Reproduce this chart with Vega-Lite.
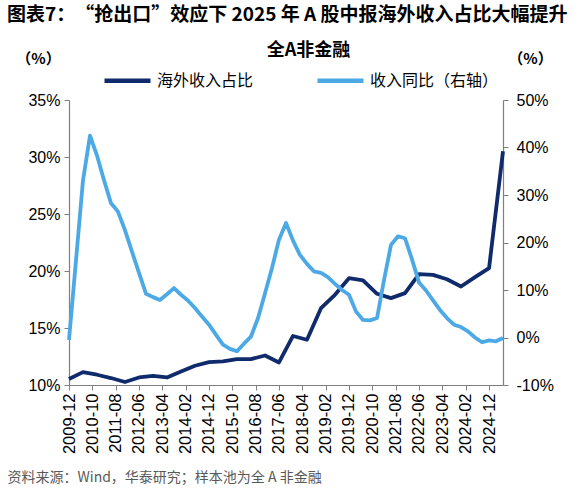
{
  "$schema": "https://vega.github.io/schema/vega-lite/v6.json",
  "width": 434,
  "height": 285,
  "autosize": "none",
  "padding": {"left": 69, "top": 100, "right": 77, "bottom": 115},
  "background": "white",
  "title": {
    "text": "图表7：　“抢出口”效应下 2025 年 A 股中报海外收入占比大幅提升",
    "anchor": "start",
    "frame": "group",
    "dx": -62,
    "offset": 16,
    "font": "Noto Sans CJK SC",
    "fontSize": 19,
    "fontWeight": "bold",
    "color": "black"
  },
  "data": {
    "values": [
      {"date": "2009-12-01", "series": "海外收入占比", "value": 10.52},
      {"date": "2010-06-01", "series": "海外收入占比", "value": 11.13},
      {"date": "2010-12-01", "series": "海外收入占比", "value": 10.9},
      {"date": "2011-06-01", "series": "海外收入占比", "value": 10.61},
      {"date": "2011-12-01", "series": "海外收入占比", "value": 10.26},
      {"date": "2012-06-01", "series": "海外收入占比", "value": 10.66},
      {"date": "2012-12-01", "series": "海外收入占比", "value": 10.81},
      {"date": "2013-06-01", "series": "海外收入占比", "value": 10.66},
      {"date": "2013-12-01", "series": "海外收入占比", "value": 11.19},
      {"date": "2014-06-01", "series": "海外收入占比", "value": 11.69},
      {"date": "2014-12-01", "series": "海外收入占比", "value": 12.01},
      {"date": "2015-06-01", "series": "海外收入占比", "value": 12.07},
      {"date": "2015-12-01", "series": "海外收入占比", "value": 12.27},
      {"date": "2016-06-01", "series": "海外收入占比", "value": 12.27},
      {"date": "2016-12-01", "series": "海外收入占比", "value": 12.59},
      {"date": "2017-06-01", "series": "海外收入占比", "value": 11.98},
      {"date": "2017-12-01", "series": "海外收入占比", "value": 14.3},
      {"date": "2018-06-01", "series": "海外收入占比", "value": 13.97},
      {"date": "2018-12-01", "series": "海外收入占比", "value": 16.74},
      {"date": "2019-06-01", "series": "海外收入占比", "value": 17.91},
      {"date": "2019-12-01", "series": "海外收入占比", "value": 19.37},
      {"date": "2020-06-01", "series": "海外收入占比", "value": 19.17},
      {"date": "2020-12-01", "series": "海外收入占比", "value": 18.0},
      {"date": "2021-06-01", "series": "海外收入占比", "value": 17.62},
      {"date": "2021-12-01", "series": "海外收入占比", "value": 18.06},
      {"date": "2022-06-01", "series": "海外收入占比", "value": 19.72},
      {"date": "2022-12-01", "series": "海外收入占比", "value": 19.66},
      {"date": "2023-06-01", "series": "海外收入占比", "value": 19.28},
      {"date": "2023-12-01", "series": "海外收入占比", "value": 18.64},
      {"date": "2024-06-01", "series": "海外收入占比", "value": 19.46},
      {"date": "2024-12-01", "series": "海外收入占比", "value": 20.25},
      {"date": "2025-06-01", "series": "海外收入占比", "value": 30.5},
      {"date": "2009-12-01", "series": "收入同比（右轴）", "value": -0.5},
      {"date": "2010-03-01", "series": "收入同比（右轴）", "value": 16},
      {"date": "2010-06-01", "series": "收入同比（右轴）", "value": 33},
      {"date": "2010-09-01", "series": "收入同比（右轴）", "value": 42.5},
      {"date": "2010-12-01", "series": "收入同比（右轴）", "value": 38.3},
      {"date": "2011-03-01", "series": "收入同比（右轴）", "value": 33.2},
      {"date": "2011-06-01", "series": "收入同比（右轴）", "value": 28.3},
      {"date": "2011-09-01", "series": "收入同比（右轴）", "value": 26.5},
      {"date": "2011-12-01", "series": "收入同比（右轴）", "value": 22.6},
      {"date": "2012-03-01", "series": "收入同比（右轴）", "value": 18.1},
      {"date": "2012-06-01", "series": "收入同比（右轴）", "value": 13.6},
      {"date": "2012-09-01", "series": "收入同比（右轴）", "value": 9.2},
      {"date": "2012-12-01", "series": "收入同比（右轴）", "value": 8.5},
      {"date": "2013-03-01", "series": "收入同比（右轴）", "value": 7.9},
      {"date": "2013-06-01", "series": "收入同比（右轴）", "value": 9.1},
      {"date": "2013-09-01", "series": "收入同比（右轴）", "value": 10.4},
      {"date": "2013-12-01", "series": "收入同比（右轴）", "value": 9.0},
      {"date": "2014-03-01", "series": "收入同比（右轴）", "value": 7.8},
      {"date": "2014-06-01", "series": "收入同比（右轴）", "value": 6.2},
      {"date": "2014-09-01", "series": "收入同比（右轴）", "value": 4.4},
      {"date": "2014-12-01", "series": "收入同比（右轴）", "value": 2.7},
      {"date": "2015-03-01", "series": "收入同比（右轴）", "value": 0.6},
      {"date": "2015-06-01", "series": "收入同比（右轴）", "value": -1.5},
      {"date": "2015-09-01", "series": "收入同比（右轴）", "value": -2.4},
      {"date": "2015-12-01", "series": "收入同比（右轴）", "value": -2.9},
      {"date": "2016-03-01", "series": "收入同比（右轴）", "value": -1.3},
      {"date": "2016-06-01", "series": "收入同比（右轴）", "value": 0.2},
      {"date": "2016-09-01", "series": "收入同比（右轴）", "value": 4.1},
      {"date": "2016-12-01", "series": "收入同比（右轴）", "value": 9.3},
      {"date": "2017-03-01", "series": "收入同比（右轴）", "value": 14.6},
      {"date": "2017-06-01", "series": "收入同比（右轴）", "value": 20.6},
      {"date": "2017-09-01", "series": "收入同比（右轴）", "value": 24.1},
      {"date": "2017-12-01", "series": "收入同比（右轴）", "value": 20.4},
      {"date": "2018-03-01", "series": "收入同比（右轴）", "value": 17.4},
      {"date": "2018-06-01", "series": "收入同比（右轴）", "value": 15.5},
      {"date": "2018-09-01", "series": "收入同比（右轴）", "value": 13.9},
      {"date": "2018-12-01", "series": "收入同比（右轴）", "value": 13.6},
      {"date": "2019-03-01", "series": "收入同比（右轴）", "value": 12.7},
      {"date": "2019-06-01", "series": "收入同比（右轴）", "value": 11.3},
      {"date": "2019-09-01", "series": "收入同比（右轴）", "value": 10.0},
      {"date": "2019-12-01", "series": "收入同比（右轴）", "value": 9.0},
      {"date": "2020-03-01", "series": "收入同比（右轴）", "value": 5.5},
      {"date": "2020-06-01", "series": "收入同比（右轴）", "value": 3.7},
      {"date": "2020-09-01", "series": "收入同比（右轴）", "value": 3.6},
      {"date": "2020-12-01", "series": "收入同比（右轴）", "value": 4.1},
      {"date": "2021-03-01", "series": "收入同比（右轴）", "value": 12},
      {"date": "2021-06-01", "series": "收入同比（右轴）", "value": 19.5},
      {"date": "2021-09-01", "series": "收入同比（右轴）", "value": 21.3},
      {"date": "2021-12-01", "series": "收入同比（右轴）", "value": 20.9},
      {"date": "2022-03-01", "series": "收入同比（右轴）", "value": 16.5},
      {"date": "2022-06-01", "series": "收入同比（右轴）", "value": 11.6},
      {"date": "2022-09-01", "series": "收入同比（右轴）", "value": 9.9},
      {"date": "2022-12-01", "series": "收入同比（右轴）", "value": 7.8},
      {"date": "2023-03-01", "series": "收入同比（右轴）", "value": 5.8},
      {"date": "2023-06-01", "series": "收入同比（右轴）", "value": 4.1},
      {"date": "2023-09-01", "series": "收入同比（右轴）", "value": 2.7},
      {"date": "2023-12-01", "series": "收入同比（右轴）", "value": 2.2},
      {"date": "2024-03-01", "series": "收入同比（右轴）", "value": 1.3},
      {"date": "2024-06-01", "series": "收入同比（右轴）", "value": 0.0},
      {"date": "2024-09-01", "series": "收入同比（右轴）", "value": -1.0},
      {"date": "2024-12-01", "series": "收入同比（右轴）", "value": -0.6},
      {"date": "2025-03-01", "series": "收入同比（右轴）", "value": -0.8},
      {"date": "2025-06-01", "series": "收入同比（右轴）", "value": -0.1}
    ]
  },
  "layer": [
    {
      "transform": [{"filter": "datum.series === '海外收入占比'"}],
      "mark": {"type": "line", "strokeWidth": 3.8, "strokeJoin": "round"},
      "encoding": {
        "x": {
          "field": "date",
          "type": "temporal",
          "scale": {
            "type": "utc",
            "domain": [
              {"year": 2009, "month": 12, "date": 1, "utc": true},
              {"year": 2025, "month": 6, "date": 1, "utc": true}
            ]
          },
          "axis": {
            "orient": "bottom",
            "format": "%Y-%m",
            "values": [
              {"year": 2009, "month": 12, "date": 1, "utc": true},
              {"year": 2010, "month": 10, "date": 1, "utc": true},
              {"year": 2011, "month": 8, "date": 1, "utc": true},
              {"year": 2012, "month": 6, "date": 1, "utc": true},
              {"year": 2013, "month": 4, "date": 1, "utc": true},
              {"year": 2014, "month": 2, "date": 1, "utc": true},
              {"year": 2014, "month": 12, "date": 1, "utc": true},
              {"year": 2015, "month": 10, "date": 1, "utc": true},
              {"year": 2016, "month": 8, "date": 1, "utc": true},
              {"year": 2017, "month": 6, "date": 1, "utc": true},
              {"year": 2018, "month": 4, "date": 1, "utc": true},
              {"year": 2019, "month": 2, "date": 1, "utc": true},
              {"year": 2019, "month": 12, "date": 1, "utc": true},
              {"year": 2020, "month": 10, "date": 1, "utc": true},
              {"year": 2021, "month": 8, "date": 1, "utc": true},
              {"year": 2022, "month": 6, "date": 1, "utc": true},
              {"year": 2023, "month": 4, "date": 1, "utc": true},
              {"year": 2024, "month": 2, "date": 1, "utc": true},
              {"year": 2024, "month": 12, "date": 1, "utc": true}
            ],
            "labelAngle": 270,
            "labelAlign": "right",
            "labelBaseline": "middle",
            "labelPadding": 3,
            "labelFontSize": 16.5,
            "labelOverlap": false,
            "labelFlush": false,
            "grid": false,
            "tickSize": 5,
            "title": "资料来源：Wind，华泰研究；样本池为全 A 非金融",
            "titleX": -62,
            "titleY": 92,
            "titleAlign": "left",
            "titleAnchor": "start",
            "titleBaseline": "middle",
            "titleFont": "Noto Sans CJK SC",
            "titleFontSize": 14,
            "titleFontWeight": "normal",
            "titleColor": "#595959"
          }
        },
        "y": {
          "field": "value",
          "type": "quantitative",
          "scale": {"domain": [10, 35], "nice": false, "zero": false},
          "axis": {
            "orient": "left",
            "values": [10, 15, 20, 25, 30, 35],
            "labelExpr": "datum.value + '%'",
            "labelFontSize": 16,
            "labelPadding": 4,
            "grid": false,
            "tickSize": 5,
            "title": "（%）",
            "titleAngle": 0,
            "titleX": -31,
            "titleY": -42,
            "titleAlign": "center",
            "titleBaseline": "middle",
            "titleFont": "Noto Sans CJK SC",
            "titleFontSize": 15,
            "titleFontWeight": "bold"
          }
        },
        "color": {
          "field": "series",
          "type": "nominal",
          "scale": {"domain": ["海外收入占比", "收入同比（右轴）"], "range": ["#0f2b6c", "#4ca9e6"]},
          "legend": {
            "orient": "none",
            "legendX": 33,
            "legendY": -45,
            "direction": "horizontal",
            "title": null
          }
        }
      }
    },
    {
      "transform": [{"filter": "datum.series === '收入同比（右轴）'"}],
      "mark": {"type": "line", "strokeWidth": 3.8, "strokeJoin": "round"},
      "encoding": {
        "x": {
          "field": "date",
          "type": "temporal",
          "axis": {
            "orient": "top",
            "labels": false,
            "ticks": false,
            "domain": false,
            "grid": false,
            "title": "全A非金融",
            "titleX": 239,
            "titleY": -50,
            "titleAlign": "center",
            "titleAnchor": "middle",
            "titleBaseline": "middle",
            "titleFont": "Noto Sans CJK SC",
            "titleFontSize": 18,
            "titleFontWeight": "bold"
          }
        },
        "y": {
          "field": "value",
          "type": "quantitative",
          "scale": {"domain": [-10, 50], "nice": false, "zero": false},
          "axis": {
            "orient": "right",
            "values": [-10, 0, 10, 20, 30, 40, 50],
            "labelExpr": "datum.value + '%'",
            "labelFontSize": 16,
            "labelPadding": 8,
            "grid": false,
            "tickSize": 5,
            "title": "（%）",
            "titleAngle": 0,
            "titleX": 27,
            "titleY": -42,
            "titleAlign": "center",
            "titleBaseline": "middle",
            "titleFont": "Noto Sans CJK SC",
            "titleFontSize": 15,
            "titleFontWeight": "bold"
          }
        },
        "color": {"field": "series", "type": "nominal"}
      }
    }
  ],
  "resolve": {"scale": {"y": "independent"}, "axis": {"x": "independent"}},
  "config": {
    "view": {"stroke": null},
    "font": "Liberation Sans",
    "axis": {
      "labelFont": "Liberation Sans",
      "labelColor": "black",
      "domainColor": "#7f7f7f",
      "tickColor": "#7f7f7f",
      "domainWidth": 1.2,
      "titleColor": "black"
    },
    "legend": {
      "symbolType": "stroke",
      "symbolSize": 2116,
      "symbolStrokeWidth": 4.5,
      "labelFont": "Noto Sans CJK SC",
      "labelFontSize": 16,
      "labelColor": "black",
      "labelOffset": 4,
      "columnPadding": 54,
      "padding": 0
    }
  }
}
